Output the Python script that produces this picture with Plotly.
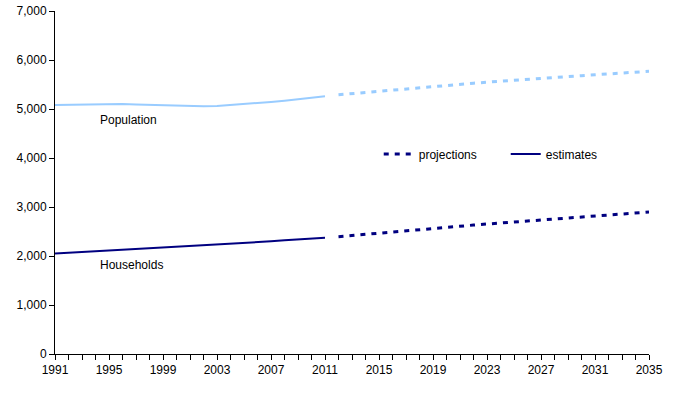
import plotly.graph_objects as go

est_years = list(range(1991, 2012))
proj_years = list(range(2012, 2036))

pop_est = [5083, 5086, 5092, 5102, 5104, 5100, 5092, 5083, 5077, 5070, 5064, 5058, 5060, 5078, 5095, 5117, 5144, 5169, 5194, 5222, 5258]
pop_proj = [5290, 5315, 5340, 5364, 5388, 5412, 5436, 5459, 5482, 5504, 5526, 5547, 5568, 5588, 5607, 5626, 5645, 5663, 5681, 5698, 5715, 5732, 5750, 5770]

hh_est = [2050, 2065, 2080, 2096, 2111, 2127, 2142, 2156, 2170, 2184, 2197, 2211, 2228, 2245, 2262, 2280, 2300, 2320, 2340, 2355, 2370]
hh_proj = [2395, 2420, 2445, 2470, 2495, 2518, 2541, 2564, 2587, 2609, 2631, 2653, 2674, 2695, 2716, 2737, 2757, 2777, 2797, 2817, 2837, 2857, 2877, 2897]

y_ticks = [0, 1000, 2000, 3000, 4000, 5000, 6000, 7000]
x_ticks = list(range(1991, 2036, 4))

LIGHT = "#99CCFF"
NAVY = "#000080"
DOT = "5px,6px"

fig = go.Figure()
fig.add_trace(go.Scatter(x=est_years, y=pop_est, mode="lines", line=dict(color=LIGHT, width=2), showlegend=False))
fig.add_trace(go.Scatter(x=proj_years, y=pop_proj, mode="lines", line=dict(color=LIGHT, width=3, dash=DOT), showlegend=False))
fig.add_trace(go.Scatter(x=proj_years, y=hh_proj, mode="lines", name="projections", line=dict(color=NAVY, width=3, dash=DOT)))
fig.add_trace(go.Scatter(x=est_years, y=hh_est, mode="lines", name="estimates", line=dict(color=NAVY, width=2)))

fig.add_annotation(x=1994.2, y=4776, text="Population", showarrow=False, xanchor="left", yanchor="middle",
                   font=dict(size=12, color="black"))
fig.add_annotation(x=1994.2, y=1816, text="Households", showarrow=False, xanchor="left", yanchor="middle",
                   font=dict(size=12, color="black"))

fig.update_layout(
    width=680, height=393,
    margin=dict(l=55, r=31, t=11, b=39),
    plot_bgcolor="white", paper_bgcolor="white",
    font=dict(family="Liberation Sans, Arial, sans-serif", size=12, color="black"),
    legend=dict(orientation="h", x=0.545, y=0.583, xanchor="left", yanchor="middle",
                bgcolor="rgba(0,0,0,0)", font=dict(size=12), entrywidth=82, entrywidthmode="pixels"),
    xaxis=dict(range=[1991, 2035], tickmode="array", tickvals=x_ticks, ticktext=[str(v) for v in x_ticks],
               showgrid=False, zeroline=False, showline=True, linecolor="black", linewidth=1,
               ticks="outside", ticklen=5, tickcolor="black", automargin=False,
               minor=dict(dtick=1, tick0=1991, ticks="outside", ticklen=5, tickcolor="black", showgrid=False)),
    yaxis=dict(range=[0, 7000], tickmode="array", tickvals=y_ticks, ticktext=[f"{v:,}" for v in y_ticks],
               showgrid=False, zeroline=False, showline=True, linecolor="black", linewidth=1,
               ticks="outside", ticklen=5, tickcolor="black", automargin=False,
               ticklabeloverflow="allow"),
)

fig.write_html("out.html", config={"displayModeBar": False},
               post_script="document.body.style.margin='0';document.body.style.overflow='hidden';")
